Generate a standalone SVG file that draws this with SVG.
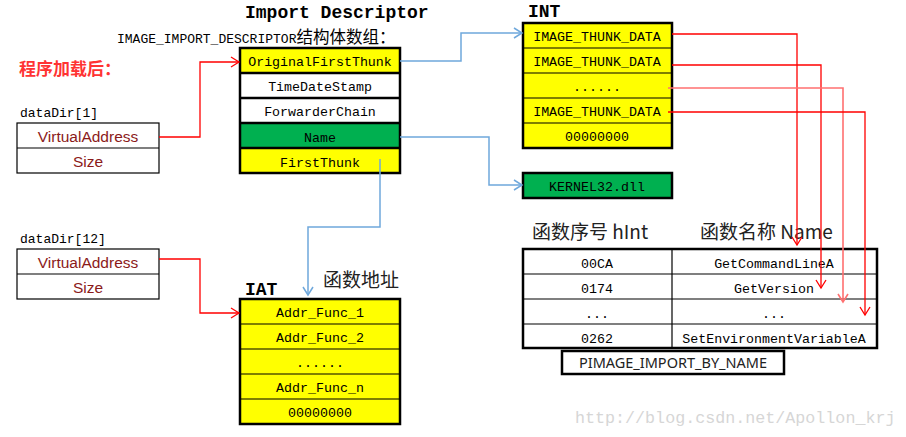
<svg xmlns="http://www.w3.org/2000/svg" width="906" height="437" viewBox="0 0 906 437">
<style>
.box{stroke:#000;stroke-width:2.5}
.ln{stroke:#000;stroke-width:1.2}
.y{fill:#ffff00}
.w{fill:#fff}
.g{fill:#00b050}
.m{font-family:"Liberation Mono",monospace;font-size:13.3px;fill:#000;text-anchor:middle}
.ml{font-family:"Liberation Mono",monospace;font-size:13px;fill:#000}
.b{font-family:"Liberation Mono",monospace;font-weight:bold;font-size:18px;fill:#000}
.dr{font-family:"Liberation Sans",Arial,sans-serif;font-size:15.5px;fill:#8b1a1a;text-anchor:middle}
.cjk{font-family:"Noto Sans CJK SC",sans-serif;font-size:19px;fill:#222}
.red{stroke:#ff0000;stroke-width:1.3;fill:none}
.red2{stroke:#ff7070;stroke-width:1.6;fill:none}
.blue{stroke:#6fa8dc;stroke-width:1.5;fill:none}
</style>
<defs>
<marker id="ar" markerUnits="userSpaceOnUse" markerWidth="12" markerHeight="12" refX="9" refY="6" orient="auto"><path d="M1,1 L9,6 L1,11" fill="none" stroke="#ff0000" stroke-width="1.3"/></marker>
<marker id="ar2" markerUnits="userSpaceOnUse" markerWidth="12" markerHeight="12" refX="9" refY="6" orient="auto"><path d="M1,1 L9,6 L1,11" fill="none" stroke="#ff7070" stroke-width="1.6"/></marker>
<marker id="ab" markerUnits="userSpaceOnUse" markerWidth="12" markerHeight="12" refX="9" refY="6" orient="auto"><path d="M1,1 L9,6 L1,11" fill="none" stroke="#6fa8dc" stroke-width="1.5"/></marker>
</defs>
<rect width="906" height="437" fill="#fff"/>

<g id="labels">
<text class="b" x="245" y="18">Import Descriptor</text>
<text class="ml" x="117" y="43">IMAGE_IMPORT_DESCRIPTOR<tspan style="font-family:'Noto Sans CJK SC',sans-serif;font-size:16.5px">结构体数组：</tspan></text>
<text x="19" y="75" style="font-family:'Noto Sans CJK SC',sans-serif;font-weight:bold;font-size:17px;fill:#ff3333">程序加载后：</text>
<text class="b" x="528" y="17">INT</text>
<text class="b" x="245" y="295">IAT</text>
<text class="cjk" x="323" y="287">函数地址</text>
<text class="cjk" x="532" y="239">函数序号 hInt</text>
<text class="cjk" x="700" y="239">函数名称 Name</text>
<text x="575" y="423" style="font-family:'Liberation Mono',monospace;font-size:16.7px;fill:#d6d6d6">http://blog.csdn.net/Apollon_krj</text>
</g>

<g id="dataDir1">
<text class="ml" x="20" y="117">dataDir[1]</text>
<rect x="17" y="123" width="142" height="50" fill="#fff" class="ln"/>
<line x1="17" y1="148" x2="159" y2="148" class="ln"/>
<text class="dr" x="88" y="142">VirtualAddress</text>
<text class="dr" x="88" y="167">Size</text>
</g>

<g id="dataDir12">
<text class="ml" x="20" y="243">dataDir[12]</text>
<rect x="17" y="249" width="142" height="50" fill="#fff" class="ln"/>
<line x1="17" y1="274" x2="159" y2="274" class="ln"/>
<text class="dr" x="88" y="268">VirtualAddress</text>
<text class="dr" x="88" y="293">Size</text>
</g>

<g id="importDescriptor">
<rect x="240" y="48" width="160" height="25" class="y"/>
<rect x="240" y="73" width="160" height="50" class="w"/>
<rect x="240" y="123" width="160" height="25" class="g"/>
<rect x="240" y="148" width="160" height="25" class="y"/>
<rect x="240" y="48" width="160" height="125" fill="none" class="box"/>
<line x1="240" y1="73" x2="400" y2="73" class="box"/>
<line x1="240" y1="98" x2="400" y2="98" class="box"/>
<line x1="240" y1="123" x2="400" y2="123" class="box"/>
<line x1="240" y1="148" x2="400" y2="148" class="box"/>
<text class="m" x="320" y="66">OriginalFirstThunk</text>
<text class="m" x="320" y="91">TimeDateStamp</text>
<text class="m" x="320" y="116">ForwarderChain</text>
<text class="m" x="320" y="142">Name</text>
<text class="m" x="320" y="167">FirstThunk</text>
</g>

<g id="INT">
<rect x="523" y="23" width="149" height="125" class="y box"/>
<line x1="523" y1="48" x2="672" y2="48" class="ln"/>
<line x1="523" y1="73" x2="672" y2="73" class="ln"/>
<line x1="523" y1="98" x2="672" y2="98" class="ln"/>
<line x1="523" y1="123" x2="672" y2="123" class="ln"/>
<text class="m" x="597" y="41">IMAGE_THUNK_DATA</text>
<text class="m" x="597" y="66">IMAGE_THUNK_DATA</text>
<text class="m" x="597" y="91">......</text>
<text class="m" x="597" y="116">IMAGE_THUNK_DATA</text>
<text class="m" x="597" y="141">00000000</text>
</g>

<g id="kernel32">
<rect x="523" y="173" width="149" height="25" class="g box"/>
<text class="m" x="597" y="191">KERNEL32.dll</text>
</g>

<g id="IAT">
<rect x="240" y="299" width="160" height="125" class="y box"/>
<line x1="240" y1="324" x2="400" y2="324" class="ln"/>
<line x1="240" y1="349" x2="400" y2="349" class="ln"/>
<line x1="240" y1="374" x2="400" y2="374" class="ln"/>
<line x1="240" y1="399" x2="400" y2="399" class="ln"/>
<text class="m" x="320" y="317">Addr_Func_1</text>
<text class="m" x="320" y="342">Addr_Func_2</text>
<text class="m" x="320" y="367">......</text>
<text class="m" x="320" y="392">Addr_Func_n</text>
<text class="m" x="320" y="417">00000000</text>
</g>

<g id="nameTable">
<rect x="523" y="249" width="354" height="99" fill="#fff" class="box"/>
<line x1="672" y1="249" x2="672" y2="348" class="ln"/>
<line x1="523" y1="274" x2="877" y2="274" class="ln"/>
<line x1="523" y1="299" x2="877" y2="299" class="ln"/>
<line x1="523" y1="324" x2="877" y2="324" class="ln"/>
<text class="m" x="597" y="268">00CA</text>
<text class="m" x="774" y="268">GetCommandLineA</text>
<text class="m" x="597" y="293">0174</text>
<text class="m" x="774" y="293">GetVersion</text>
<text class="m" x="597" y="318">...</text>
<text class="m" x="774" y="318">...</text>
<text class="m" x="597" y="343">0262</text>
<text class="m" x="774" y="343">SetEnvironmentVariableA</text>
</g>

<g id="pimage">
<rect x="562" y="351" width="222" height="23" fill="#fff" class="box"/>
<text x="673" y="368" text-anchor="middle" style="font-family:'Noto Sans',sans-serif;font-size:14.5px;fill:#222">PIMAGE_IMPORT_BY_NAME</text>
</g>

<g id="connectors">
<polyline class="red" points="159,137 200,137 200,62 239,62" marker-end="url(#ar)"/>
<polyline class="red" points="159,259 200,259 200,313 239,313" marker-end="url(#ar)"/>
<polyline class="blue" points="400,61 461,61 461,33 522,33" marker-end="url(#ab)"/>
<polyline class="blue" points="400,137 489,137 489,185 522,185" marker-end="url(#ab)"/>
<polyline class="blue" points="380,159 380,227 308,227 308,295" marker-end="url(#ab)"/>
<polyline class="red" points="672,34 797,34 797,245" marker-end="url(#ar)"/>
<polyline class="red" points="672,65 821,65 821,288" marker-end="url(#ar)"/>
<polyline class="red2" points="668,88 843,88 843,302" marker-end="url(#ar2)"/>
<polyline class="red" points="668,112 865,112 865,315" marker-end="url(#ar)"/>
</g>
</svg>
